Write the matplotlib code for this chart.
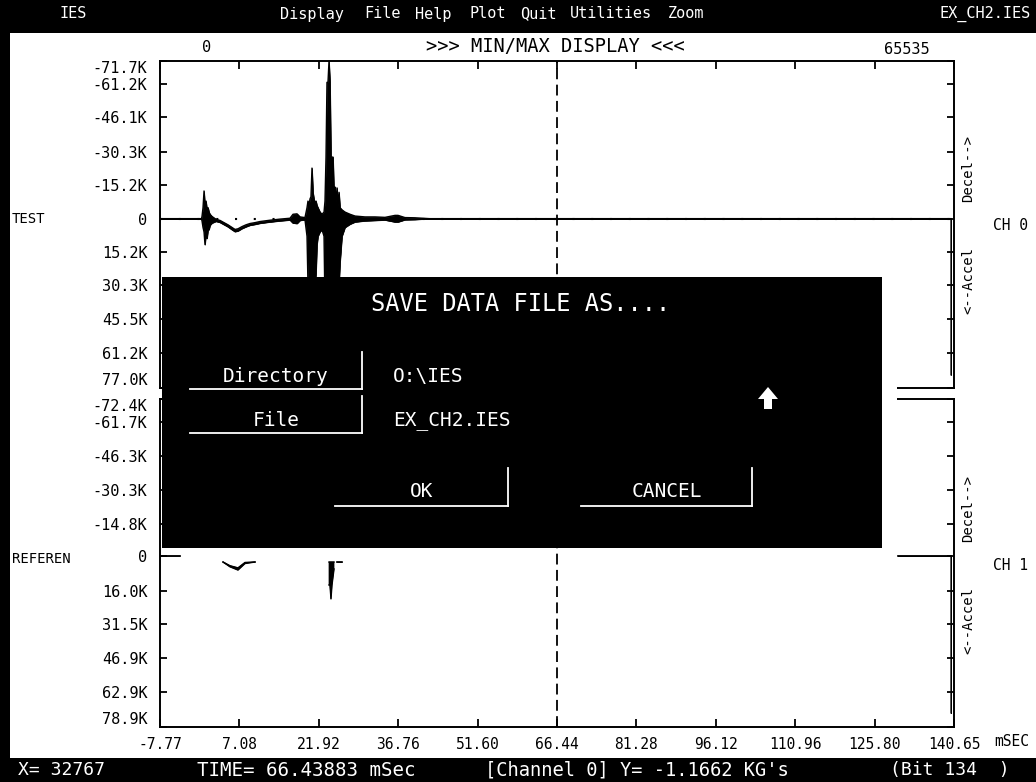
import numpy as np
import matplotlib
matplotlib.use("Agg")
import matplotlib.pyplot as plt
from matplotlib.patches import Rectangle, Polygon
from matplotlib.lines import Line2D

W, H = 1036, 782
FONT = "DejaVu Sans Mono"
plt.rcParams['font.family'] = [FONT]

# ---------------- data ----------------
menu_items = ["IES", "Display", "File", "Help", "Plot", "Quit", "Utilities", "Zoom", "EX_CH2.IES"]
x_ticks = [-7.77, 7.08, 21.92, 36.76, 51.60, 66.44, 81.28, 96.12, 110.96, 125.80, 140.65]
test_yticks = [-71.7, -61.2, -46.1, -30.3, -15.2, 0, 15.2, 30.3, 45.5, 61.2, 77.0]
ref_yticks = [-72.4, -61.7, -46.3, -30.3, -14.8, 0, 16.0, 31.5, 46.9, 62.9, 78.9]

# TEST channel min/max envelope (K units, negative = decel = up)
test_t = [-7.77, -0.02,
          0.08, 0.27, 0.46, 0.64, 0.83, 1.02, 1.21, 1.39, 1.58, 1.77, 1.95,
          2.70, 3.45, 4.19, 4.94, 5.69, 6.25, 6.81, 7.56, 8.30, 9.05, 9.99, 10.92, 12.79, 14.66, 16.53,
          17.09, 17.84, 18.40, 19.33,
          19.71, 19.89, 20.08, 20.27, 20.45, 20.64, 20.83, 21.01, 21.20, 21.39, 21.57, 21.76,
          22.14, 22.51, 22.89,
          23.07, 23.26, 23.44, 23.63, 23.82, 24.01, 24.19, 24.38, 24.57, 24.76,
          24.94, 25.13, 25.32, 25.50, 25.69, 25.88,
          26.25, 26.81, 27.75, 28.68,
          30.55, 32.42, 34.29, 36.16, 36.72, 38.02, 39.89, 42.70,
          140.10, 140.10]
test_min = [0, 0,
            -1, -5, -12.6, -6, -8, -4, -5, -3, -2, -1.5, -1,
            0.3, 0.8, 1.8, 2.8, 4.0, 4.9, 4.6, 3.6, 2.8, 2.2, 1.8, 1.3, 0.7, 0.2, -0.2,
            -2.0, -2.2, -0.8, -0.5,
            -5, -8, -6, -9, -10, -23, -12, -9, -7, -8, -6, -5,
            -3, -2, -3,
            -8, -28, -62, -62, -71.7, -62, -28, -28, -28, -12,
            -14.4, -8, -14, -6, -12, -5,
            -4, -3, -2, -1.2,
            -0.8, -0.8, -0.6, -1.5, -1.5, -0.5, -0.4, 0,
            0, 0]
test_max = [0, 0,
            1, 4, 6, 11.8, 7, 9, 5, 5, 3, 2.5, 2,
            1.2, 1.7, 2.7, 3.7, 5.0, 5.9, 5.6, 4.5, 3.7, 3.0, 2.6, 2.1, 1.5, 1.0, 0.6,
            2.0, 2.2, 0.8, 0.5,
            8, 30, 50, 60, 50, 45, 35, 20, 30, 25, 12, 8,
            6, 5, 8,
            40, 77, 77, 77, 77, 77, 77, 77, 77, 60,
            50, 45, 40, 35, 30, 20,
            8, 4, 2.5, 1.5,
            1.0, 0.8, 0.6, 1.5, 1.5, 0.5, 0.4, 0,
            0, 71]

nan = np.nan
# REFERENCE channel: only partly redrawn on screen (NaN = not drawn)
ref_t = [-7.77, -4.03, nan, 4.01, 5.31, 6.81, 8.12, 9.99, nan,
         23.82, 24.00, 24.19, 24.38, 24.76, nan, 25.31, 26.25, nan, 130.18, 140.10, 140.10]
ref_min = [0, 0, nan, 2.8, 4.5, 5.5, 3.0, 2.8, nan,
           2.8, 2.8, 2.8, 2.8, 2.8, nan, 2.8, 2.8, nan, 0, 0, 0]
ref_max = [0, 0, nan, 2.8, 5.0, 6.5, 3.5, 2.8, nan,
           13.4, 13.4, 19.8, 13.4, 6.0, nan, 2.8, 2.8, nan, 0, 0, 72.4]

cursor_t = 66.44

# ---------------- helpers ----------------
def fx(x):
    return x / W

def fy(y):
    return 1 - y / H

fig = plt.figure(figsize=(W / 100, H / 100), dpi=100)
fig.patch.set_facecolor("white")

def ylab(v):
    return "0" if v == 0 else f"{v:.1f}K"

def setup_axes(ax, yticks, ylim, top_ticks, bottom_labels):
    ax.set_xlim(x_ticks[0], x_ticks[-1])
    ax.set_ylim(*ylim)
    ax.set_facecolor("white")
    for s in ax.spines.values():
        s.set_linewidth(1.4)
        s.set_color("black")
    ax.set_yticks(yticks)
    ax.set_yticklabels([ylab(v) for v in yticks])
    ax.tick_params(axis='y', left=True, right=True, direction='in', length=5, width=1.3,
                   labelsize=11, pad=9, labelleft=True, labelright=False)
    labels = ax.get_yticklabels()
    labels[0].set_va("top")
    labels[-1].set_va("bottom")
    ax.set_xticks(x_ticks)
    ax.set_xticklabels([f"{v:.2f}" for v in x_ticks])
    ax.tick_params(axis='x', top=top_ticks, bottom=bottom_labels, direction='in', length=6,
                   width=1.3, labelsize=10.5, pad=7, labelbottom=bottom_labels, labeltop=False)

def draw_trace(ax, t, lo, hi):
    t = np.array(t, dtype=float)
    lo = np.array(lo, dtype=float)
    hi = np.array(hi, dtype=float)
    ax.fill_between(t, lo, hi, color="black", lw=0.5)
    ax.plot(t, lo, color="black", lw=1.0)
    ax.plot(t, hi, color="black", lw=1.0)

ax1 = fig.add_axes([fx(160), fy(388), 794 / W, 327 / H])
ax2 = fig.add_axes([fx(160), fy(727), 794 / W, 328 / H])
setup_axes(ax1, test_yticks, (test_yticks[-1], test_yticks[0]), True, False)
setup_axes(ax2, ref_yticks, (ref_yticks[-1], ref_yticks[0]), False, True)

ax1.axhline(0, color="black", lw=1.5, ls=(0, (1, 8)))
draw_trace(ax1, test_t, test_min, test_max)
draw_trace(ax2, ref_t, ref_min, ref_max)
for ax in (ax1, ax2):
    ax.axvline(cursor_t, color="black", lw=1.3, ls=(0, (6, 3)))

# ---------------- frame / bars ----------------
def rect(x0, y0, x1, y1, color, z=5):
    fig.add_artist(Rectangle((fx(x0), fy(y1)), (x1 - x0) / W, (y1 - y0) / H,
                             transform=fig.transFigure, facecolor=color, edgecolor="none", zorder=z))

def line(x0, y0, x1, y1, color="white", lw=1.3, z=12):
    fig.add_artist(Line2D([fx(x0), fx(x1)], [fy(y0), fy(y1)], transform=fig.transFigure,
                          color=color, lw=lw, zorder=z))

def txt(x, y, s, size=11, color="black", ha="left", va="center", rot=0, z=12):
    fig.text(fx(x), fy(y), s, fontsize=size, color=color, ha=ha, va=va, rotation=rot,
             family=FONT, zorder=z)

rect(0, 0, W, 33, "black")
rect(0, 0, 10, H, "black")
rect(0, 758, W, H, "black")

menu_x = [73, 312, 383, 433, 488, 538, 611, 686, 985]
for s, x in zip(menu_items, menu_x):
    txt(x, 14, s, size=11, color="white", ha="center")

txt(207, 47, "0", size=11, ha="center")
txt(555, 46, ">>> MIN/MAX DISPLAY <<<", size=13.5, ha="center")
txt(907, 50, "65535", size=11, ha="center")

txt(12, 219, "TEST", size=10)
txt(12, 559, "REFEREN", size=10)
txt(993, 225, "CH 0", size=10.5)
txt(993, 565, "CH 1", size=10.5)
txt(968, 168, "Decel-->", size=10, ha="center", rot=90)
txt(968, 281, "<--Accel", size=10, ha="center", rot=90)
txt(968, 508, "Decel-->", size=10, ha="center", rot=90)
txt(968, 621, "<--Accel", size=10, ha="center", rot=90)
txt(994, 742, "mSEC", size=10.5)

txt(18, 770, "X= 32767", size=13, color="white")
txt(197, 770, "TIME= 66.43883 mSec", size=13.8, color="white")
txt(485, 770, "[Channel 0] Y= -1.1662 KG's", size=13.5, color="white")
txt(890, 770, "(Bit 134  )", size=13, color="white")

# ---------------- dialog ----------------
rect(882, 377, 897, 410, "white", z=9)
rect(162, 277, 882, 548, "black", z=10)
txt(521, 304, "SAVE DATA FILE AS....", size=17, color="white", ha="center")
txt(276, 376, "Directory", size=14, color="white", ha="center")
txt(276, 420, "File", size=14, color="white", ha="center")
txt(393, 376, "O:\\IES", size=14, color="white")
txt(393, 420, "EX_CH2.IES", size=14, color="white")
txt(422, 492, "OK", size=14, color="white", ha="center")
txt(667, 492, "CANCEL", size=14, color="white", ha="center")
for (x0, x1, ytop, ybot) in [(190, 362, 352, 389), (190, 362, 396, 433),
                             (335, 508, 468, 506), (581, 752, 468, 506)]:
    line(x0, ybot, x1, ybot)
    line(x1, ytop, x1, ybot)
arrow = [(768, 387), (778, 399), (772, 399), (772, 409), (764, 409), (764, 399), (758, 399)]
fig.add_artist(Polygon([(fx(x), fy(y)) for x, y in arrow], closed=True, transform=fig.transFigure,
                       facecolor="white", edgecolor="none", zorder=12))

fig.savefig("out.png", dpi=100)
